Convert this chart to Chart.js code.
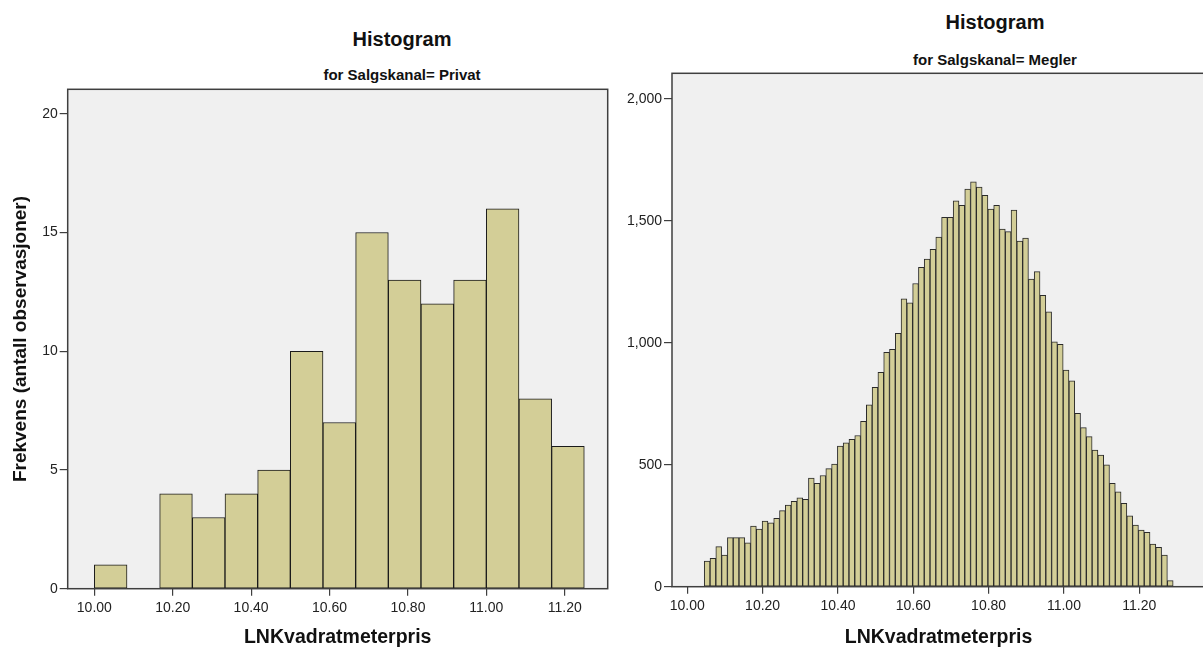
<!DOCTYPE html>
<html>
<head>
<meta charset="utf-8">
<script src="https://cdn.jsdelivr.net/npm/chart.js@4.4.1/dist/chart.umd.min.js"></script>
<style>
  html, body { margin: 0; padding: 0; background: #ffffff; overflow: hidden; width: 1203px; height: 648px; }
  .wrap { position: absolute; top: 0; }
  .ttl { position: absolute; transform: translate(-50%, -50%); font-family: "Liberation Sans", Arial, sans-serif; font-weight: bold; color: #111; white-space: nowrap; line-height: 1; }
  .t1 { font-size: 20px; }
  .t2 { font-size: 15px; }
</style>
</head>
<body>
<div class="ttl t1" style="left:402px; top:39px;">Histogram</div>
<div class="ttl t2" style="left:402px; top:74px;">for Salgskanal= Privat</div>
<div class="ttl t1" style="left:995px; top:22px;">Histogram</div>
<div class="ttl t2" style="left:995px; top:59px;">for Salgskanal= Megler</div>

<div class="wrap" style="left:0px;"><canvas id="c1" width="620" height="648"></canvas></div>
<div class="wrap" style="left:620px;"><canvas id="c2" width="590" height="648"></canvas></div>

<script>
// ---------- data ----------
const xTitle = "LNKvadratmeterpris";
const yTitle = "Frekvens (antall observasjoner)";

// Privat: bins of width 1/12 starting at 10.00
const privatBinStart = 10.0;
const privatBinWidth = 1 / 12;
const privatCounts = [1, 0, 4, 3, 4, 5, 10, 7, 15, 13, 12, 13, 16, 8, 6];
const privatXTicks = [10.0, 10.2, 10.4, 10.6, 10.8, 11.0, 11.2];
const privatYTicks = [0, 5, 10, 15, 20];

// Megler: 81 bins
const meglerBinStart = 10.045;
const meglerBinWidth = 0.01537;
const meglerCounts = [
  105, 116, 164, 130, 201, 201, 201, 180, 249, 236,
  269, 262, 280, 312, 335, 350, 364, 358, 445, 424,
  456, 484, 503, 577, 590, 604, 620, 678, 746, 817,
  879, 961, 973, 1039, 1180, 1164, 1243, 1309, 1343, 1383,
  1433, 1514, 1514, 1582, 1564, 1630, 1660, 1639, 1605, 1548,
  1564, 1466, 1456, 1544, 1417, 1429, 1261, 1292, 1195, 1127,
  1004, 994, 888, 844, 711, 652, 615, 560, 540, 500,
  424, 389, 342, 291, 253, 232, 223, 175, 161, 130, 25
];
const meglerXTicks = [10.0, 10.2, 10.4, 10.6, 10.8, 11.0, 11.2];
const meglerYTicks = [0, 500, 1000, 1500, 2000];

// ---------- helpers ----------
function toPoints(start, width, counts) {
  return counts.map((c, i) => ({ x: start + (i + 0.5) * width, y: c }));
}

const FONT = '"Liberation Sans", Arial, sans-serif';
const BAR_FILL = '#d3ce97';
const PLOT_BG = '#f0f0f0';
const FRAME = '#3f3f3f';

const framePlugin = {
  id: 'frame',
  beforeDraw(chart) {
    const { ctx, chartArea: a } = chart;
    ctx.save();
    ctx.fillStyle = PLOT_BG;
    ctx.fillRect(a.left, a.top, a.right - a.left, a.bottom - a.top);
    ctx.restore();
  },
  afterDatasetsDraw(chart) {
    const { ctx, chartArea: a } = chart;
    ctx.save();
    ctx.strokeStyle = FRAME;
    ctx.lineWidth = 1.5;
    ctx.strokeRect(a.left, a.top, a.right - a.left, a.bottom - a.top);
    ctx.restore();
  }
};

function makeChart(id, cfg) {
  return new Chart(document.getElementById(id), {
    type: 'bar',
    data: {
      datasets: [{
        data: toPoints(cfg.binStart, cfg.binWidth, cfg.counts),
        backgroundColor: BAR_FILL,
        borderColor: cfg.barBorder,
        borderWidth: cfg.barBorderWidth,
        borderSkipped: false,
        barPercentage: 1,
        categoryPercentage: 1
      }]
    },
    options: {
      responsive: false,
      animation: false,
      devicePixelRatio: 1,
      events: [],
      layout: { padding: cfg.padding },
      plugins: { legend: { display: false }, tooltip: { enabled: false }, title: { display: false } },
      scales: {
        x: {
          type: 'linear',
          min: cfg.xMin,
          max: cfg.xMax,
          offset: false,
          afterBuildTicks: s => { s.ticks = cfg.xTicks.map(v => ({ value: v })); },
          afterFit: s => { s.height = cfg.xAxisHeight; },
          ticks: {
            autoSkip: false, maxRotation: 0, padding: 4,
            color: '#222', font: { family: FONT, size: 14 },
            callback: v => Number(v).toFixed(2)
          },
          grid: { offset: false, drawOnChartArea: false, drawTicks: true, tickLength: 7, color: FRAME, lineWidth: 1.2 },
          border: { display: false },
          title: {
            display: true, text: xTitle, color: '#111',
            font: { family: FONT, size: 19.5, weight: 'bold', lineHeight: 1 },
            padding: { top: 0, bottom: 1 }
          }
        },
        y: {
          type: 'linear',
          min: 0,
          max: cfg.yMax,
          afterBuildTicks: s => { s.ticks = cfg.yTicks.map(v => ({ value: v })); },
          afterFit: s => { s.width = cfg.yAxisWidth; },
          ticks: {
            padding: 2, color: '#222', font: { family: FONT, size: 14 },
            callback: v => Number(v).toLocaleString('en-US')
          },
          grid: { offset: false, drawOnChartArea: false, drawTicks: true, tickLength: 8, color: FRAME, lineWidth: 1.2 },
          border: { display: false },
          title: cfg.yTitle ? {
            display: true, text: cfg.yTitle, color: '#111',
            font: { family: FONT, size: 19, weight: 'bold', lineHeight: 1 },
            padding: { top: 11.5, bottom: 0 }
          } : { display: false }
        }
      }
    },
    plugins: [framePlugin]
  });
}

makeChart('c1', {
  binStart: privatBinStart, binWidth: privatBinWidth, counts: privatCounts,
  xTicks: privatXTicks, yTicks: privatYTicks,
  xMin: 9.932, xMax: 11.3097, yMax: 21.03,
  padding: { left: 0, top: 89.3, right: 12.3, bottom: 0 },
  yAxisWidth: 67.7, xAxisHeight: 59.3,
  barBorder: '#1a1a1a', barBorderWidth: 1,
  yTitle: yTitle
});

makeChart('c2', {
  binStart: meglerBinStart, binWidth: meglerBinWidth, counts: meglerCounts,
  xTicks: meglerXTicks, yTicks: meglerYTicks,
  xMin: 9.9594, xMax: 11.3745, yMax: 2105,
  padding: { left: 0, top: 73.3, right: 5, bottom: 0 },
  yAxisWidth: 52, xAxisHeight: 61.3,
  barBorder: '#2a2a2a', barBorderWidth: 1,
  yTitle: null
});
</script>
</body>
</html>
